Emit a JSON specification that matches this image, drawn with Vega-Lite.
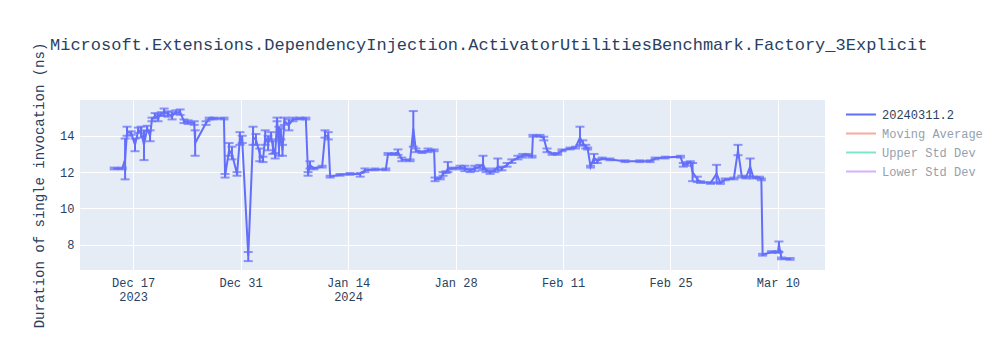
{
 "$schema": "https://vega.github.io/schema/vega-lite/v6.json",
 "width": 745,
 "height": 170,
 "autosize": {"type": "none"},
 "padding": {"left": 80, "top": 100, "right": 175, "bottom": 80},
 "background": "white",
 "title": {"text": "Microsoft.Extensions.DependencyInjection.ActivatorUtilitiesBenchmark.Factory_3Explicit", "anchor": "start", "frame": "group", "orient": "top", "offset": 0, "dy": 25, "baseline": "alphabetic", "dx": -30, "font": "Liberation Mono", "fontSize": 17, "fontWeight": "normal", "color": "#2a3f5f"},
 "data": {"values": [
  {"d":"2023-12-14T13:00","v":12.2,"lo":12.15,"hi":12.25},
  {"d":"2023-12-15T14:00","v":12.2,"lo":12.15,"hi":12.25},
  {"d":"2023-12-15T23:00","v":12.7,"lo":11.6,"hi":13.85},
  {"d":"2023-12-16T05:00","v":14.2,"lo":14.0,"hi":14.5},
  {"d":"2023-12-16T18:00","v":14.15,"lo":14.05,"hi":14.25},
  {"d":"2023-12-17T06:00","v":13.5,"lo":13.15,"hi":13.85},
  {"d":"2023-12-17T16:00","v":14.3,"lo":14.15,"hi":14.45},
  {"d":"2023-12-18T01:00","v":14.2,"lo":13.9,"hi":14.5},
  {"d":"2023-12-18T10:00","v":13.5,"lo":12.66,"hi":14.3},
  {"d":"2023-12-18T20:00","v":14.4,"lo":14.25,"hi":14.55},
  {"d":"2023-12-19T05:00","v":14.0,"lo":13.7,"hi":14.3},
  {"d":"2023-12-19T11:00","v":14.9,"lo":14.8,"hi":15.0},
  {"d":"2023-12-19T21:00","v":15.1,"lo":14.95,"hi":15.25},
  {"d":"2023-12-20T06:00","v":15.0,"lo":14.8,"hi":15.2},
  {"d":"2023-12-20T16:00","v":15.2,"lo":15.1,"hi":15.3},
  {"d":"2023-12-21T01:00","v":15.3,"lo":15.1,"hi":15.5},
  {"d":"2023-12-21T13:00","v":15.2,"lo":15.05,"hi":15.35},
  {"d":"2023-12-22T02:00","v":15.1,"lo":14.9,"hi":15.3},
  {"d":"2023-12-22T14:00","v":15.3,"lo":15.2,"hi":15.4},
  {"d":"2023-12-23T03:00","v":15.3,"lo":15.15,"hi":15.45},
  {"d":"2023-12-23T15:00","v":14.8,"lo":14.7,"hi":14.9},
  {"d":"2023-12-24T04:00","v":14.75,"lo":14.65,"hi":14.85},
  {"d":"2023-12-24T23:00","v":14.7,"lo":14.6,"hi":14.8},
  {"d":"2023-12-25T02:00","v":13.6,"lo":12.9,"hi":14.3},
  {"d":"2023-12-26T12:00","v":14.7,"lo":14.6,"hi":14.8},
  {"d":"2023-12-26T22:00","v":14.95,"lo":14.9,"hi":15.0},
  {"d":"2023-12-27T13:00","v":14.95,"lo":14.9,"hi":15.0},
  {"d":"2023-12-28T20:00","v":14.95,"lo":14.9,"hi":15.0},
  {"d":"2023-12-28T23:30","v":11.8,"lo":11.7,"hi":11.9},
  {"d":"2023-12-29T12:00","v":13.2,"lo":12.9,"hi":13.6},
  {"d":"2023-12-29T21:00","v":13.0,"lo":12.7,"hi":13.4},
  {"d":"2023-12-30T13:00","v":11.9,"lo":11.8,"hi":12.0},
  {"d":"2023-12-30T22:00","v":13.9,"lo":13.5,"hi":14.2},
  {"d":"2023-12-31T05:00","v":13.8,"lo":13.6,"hi":14.0},
  {"d":"2024-01-01T00:00","v":7.4,"lo":7.1,"hi":7.6},
  {"d":"2024-01-01T15:00","v":13.9,"lo":13.5,"hi":14.5},
  {"d":"2024-01-02T00:00","v":13.8,"lo":13.5,"hi":14.1},
  {"d":"2024-01-02T12:00","v":13.0,"lo":12.6,"hi":13.3},
  {"d":"2024-01-02T22:00","v":12.7,"lo":12.55,"hi":12.85},
  {"d":"2024-01-03T05:00","v":13.9,"lo":13.5,"hi":14.3},
  {"d":"2024-01-03T14:00","v":13.6,"lo":13.2,"hi":14.0},
  {"d":"2024-01-03T23:00","v":14.0,"lo":13.8,"hi":14.2},
  {"d":"2024-01-04T05:00","v":13.4,"lo":13.0,"hi":13.7},
  {"d":"2024-01-04T12:00","v":12.9,"lo":12.75,"hi":13.05},
  {"d":"2024-01-04T18:00","v":14.9,"lo":14.8,"hi":15.0},
  {"d":"2024-01-05T00:00","v":13.3,"lo":12.9,"hi":14.5},
  {"d":"2024-01-05T06:00","v":14.1,"lo":13.8,"hi":14.4},
  {"d":"2024-01-05T11:00","v":13.2,"lo":12.9,"hi":13.5},
  {"d":"2024-01-05T17:00","v":14.8,"lo":14.6,"hi":15.0},
  {"d":"2024-01-06T07:00","v":14.6,"lo":14.3,"hi":14.9},
  {"d":"2024-01-06T20:00","v":14.9,"lo":14.8,"hi":15.0},
  {"d":"2024-01-07T17:00","v":14.95,"lo":14.9,"hi":15.0},
  {"d":"2024-01-08T12:00","v":14.95,"lo":14.9,"hi":15.0},
  {"d":"2024-01-08T19:00","v":11.9,"lo":11.8,"hi":12.0},
  {"d":"2024-01-09T01:00","v":12.4,"lo":12.2,"hi":12.6},
  {"d":"2024-01-09T13:00","v":12.2,"lo":12.15,"hi":12.25},
  {"d":"2024-01-10T15:00","v":12.3,"lo":12.25,"hi":12.35},
  {"d":"2024-01-11T00:00","v":14.0,"lo":13.9,"hi":14.3},
  {"d":"2024-01-11T10:00","v":14.0,"lo":13.8,"hi":14.2},
  {"d":"2024-01-11T16:00","v":11.75,"lo":11.7,"hi":11.8},
  {"d":"2024-01-12T23:00","v":11.85,"lo":11.8,"hi":11.9},
  {"d":"2024-01-14T06:00","v":11.9,"lo":11.85,"hi":11.95},
  {"d":"2024-01-15T14:00","v":11.9,"lo":11.75,"hi":11.95},
  {"d":"2024-01-16T05:00","v":12.1,"lo":12.0,"hi":12.2},
  {"d":"2024-01-17T12:00","v":12.15,"lo":12.1,"hi":12.2},
  {"d":"2024-01-18T22:00","v":12.15,"lo":12.1,"hi":12.2},
  {"d":"2024-01-19T05:00","v":13.0,"lo":12.95,"hi":13.05},
  {"d":"2024-01-20T02:00","v":13.0,"lo":12.95,"hi":13.05},
  {"d":"2024-01-20T12:00","v":13.1,"lo":12.95,"hi":13.25},
  {"d":"2024-01-21T00:00","v":12.7,"lo":12.6,"hi":12.8},
  {"d":"2024-01-22T02:00","v":12.65,"lo":12.6,"hi":12.7},
  {"d":"2024-01-22T12:00","v":14.4,"lo":13.4,"hi":15.36},
  {"d":"2024-01-22T20:00","v":13.2,"lo":13.1,"hi":13.3},
  {"d":"2024-01-23T15:00","v":13.1,"lo":13.05,"hi":13.15},
  {"d":"2024-01-24T10:00","v":13.2,"lo":13.1,"hi":13.3},
  {"d":"2024-01-25T05:00","v":13.2,"lo":13.15,"hi":13.25},
  {"d":"2024-01-25T08:00","v":11.6,"lo":11.5,"hi":11.7},
  {"d":"2024-01-26T00:00","v":11.65,"lo":11.6,"hi":11.7},
  {"d":"2024-01-26T09:00","v":11.9,"lo":11.8,"hi":12.0},
  {"d":"2024-01-26T18:00","v":12.0,"lo":11.95,"hi":12.05},
  {"d":"2024-01-27T00:00","v":12.2,"lo":12.0,"hi":12.56},
  {"d":"2024-01-27T13:00","v":12.2,"lo":12.15,"hi":12.25},
  {"d":"2024-01-28T14:00","v":12.25,"lo":12.15,"hi":12.35},
  {"d":"2024-01-29T05:00","v":12.2,"lo":12.05,"hi":12.35},
  {"d":"2024-01-29T22:00","v":12.1,"lo":12.0,"hi":12.2},
  {"d":"2024-01-30T12:00","v":12.2,"lo":12.05,"hi":12.35},
  {"d":"2024-01-31T04:00","v":12.3,"lo":12.2,"hi":12.4},
  {"d":"2024-01-31T14:00","v":12.4,"lo":12.1,"hi":12.9},
  {"d":"2024-01-31T23:00","v":12.1,"lo":12.0,"hi":12.2},
  {"d":"2024-02-01T12:00","v":12.0,"lo":11.9,"hi":12.1},
  {"d":"2024-02-02T03:00","v":12.1,"lo":12.0,"hi":12.2},
  {"d":"2024-02-02T12:00","v":12.3,"lo":12.1,"hi":12.75},
  {"d":"2024-02-03T01:00","v":12.2,"lo":12.1,"hi":12.3},
  {"d":"2024-02-03T17:00","v":12.4,"lo":12.3,"hi":12.5},
  {"d":"2024-02-04T08:00","v":12.6,"lo":12.5,"hi":12.7},
  {"d":"2024-02-05T03:00","v":12.8,"lo":12.7,"hi":12.9},
  {"d":"2024-02-05T18:00","v":12.9,"lo":12.8,"hi":13.0},
  {"d":"2024-02-06T10:00","v":12.95,"lo":12.9,"hi":13.0},
  {"d":"2024-02-06T23:00","v":12.85,"lo":12.8,"hi":12.9},
  {"d":"2024-02-07T02:00","v":14.0,"lo":13.95,"hi":14.05},
  {"d":"2024-02-08T00:00","v":14.0,"lo":13.95,"hi":14.05},
  {"d":"2024-02-08T12:00","v":13.85,"lo":13.75,"hi":13.95},
  {"d":"2024-02-08T22:00","v":13.2,"lo":13.1,"hi":13.3},
  {"d":"2024-02-09T14:00","v":13.0,"lo":12.95,"hi":13.05},
  {"d":"2024-02-10T07:00","v":13.0,"lo":12.95,"hi":13.05},
  {"d":"2024-02-10T21:00","v":13.2,"lo":13.15,"hi":13.25},
  {"d":"2024-02-11T22:00","v":13.3,"lo":13.25,"hi":13.35},
  {"d":"2024-02-12T15:00","v":13.35,"lo":13.3,"hi":13.4},
  {"d":"2024-02-13T05:00","v":13.9,"lo":13.5,"hi":14.5},
  {"d":"2024-02-13T14:00","v":13.6,"lo":13.45,"hi":13.75},
  {"d":"2024-02-13T23:00","v":13.4,"lo":13.3,"hi":13.5},
  {"d":"2024-02-14T05:00","v":13.3,"lo":13.25,"hi":13.35},
  {"d":"2024-02-14T14:00","v":12.3,"lo":12.25,"hi":12.35},
  {"d":"2024-02-15T01:00","v":12.8,"lo":12.5,"hi":13.0},
  {"d":"2024-02-15T11:00","v":12.6,"lo":12.5,"hi":12.7},
  {"d":"2024-02-16T02:00","v":12.75,"lo":12.7,"hi":12.8},
  {"d":"2024-02-17T03:00","v":12.7,"lo":12.65,"hi":12.75},
  {"d":"2024-02-19T02:00","v":12.6,"lo":12.55,"hi":12.65},
  {"d":"2024-02-21T00:00","v":12.6,"lo":12.55,"hi":12.65},
  {"d":"2024-02-22T08:00","v":12.6,"lo":12.55,"hi":12.65},
  {"d":"2024-02-23T00:00","v":12.75,"lo":12.7,"hi":12.8},
  {"d":"2024-02-24T07:00","v":12.8,"lo":12.75,"hi":12.85},
  {"d":"2024-02-26T07:00","v":12.85,"lo":12.8,"hi":12.9},
  {"d":"2024-02-26T16:00","v":12.4,"lo":12.3,"hi":12.5},
  {"d":"2024-02-27T05:00","v":12.45,"lo":12.35,"hi":12.55},
  {"d":"2024-02-27T14:00","v":12.55,"lo":12.5,"hi":12.6},
  {"d":"2024-02-27T21:00","v":12.0,"lo":11.5,"hi":12.5},
  {"d":"2024-02-28T12:00","v":11.6,"lo":11.45,"hi":11.75},
  {"d":"2024-02-28T22:00","v":11.45,"lo":11.4,"hi":11.5},
  {"d":"2024-03-01T05:00","v":11.4,"lo":11.35,"hi":11.45},
  {"d":"2024-03-02T00:00","v":11.9,"lo":11.4,"hi":12.4},
  {"d":"2024-03-02T12:00","v":11.4,"lo":11.35,"hi":11.45},
  {"d":"2024-03-03T03:00","v":11.6,"lo":11.55,"hi":11.65},
  {"d":"2024-03-04T06:00","v":11.65,"lo":11.6,"hi":11.7},
  {"d":"2024-03-04T19:00","v":13.2,"lo":12.93,"hi":13.5},
  {"d":"2024-03-05T07:00","v":11.75,"lo":11.7,"hi":11.8},
  {"d":"2024-03-05T20:00","v":11.7,"lo":11.65,"hi":11.75},
  {"d":"2024-03-06T09:00","v":12.3,"lo":11.75,"hi":12.75},
  {"d":"2024-03-06T19:00","v":11.7,"lo":11.65,"hi":11.75},
  {"d":"2024-03-07T14:00","v":11.7,"lo":11.65,"hi":11.75},
  {"d":"2024-03-07T20:00","v":11.6,"lo":11.55,"hi":11.65},
  {"d":"2024-03-08T00:00","v":7.45,"lo":7.4,"hi":7.5},
  {"d":"2024-03-09T04:00","v":7.6,"lo":7.55,"hi":7.65},
  {"d":"2024-03-10T00:00","v":7.6,"lo":7.55,"hi":7.65},
  {"d":"2024-03-10T03:00","v":8.0,"lo":7.6,"hi":8.18},
  {"d":"2024-03-10T11:00","v":7.25,"lo":7.2,"hi":7.3},
  {"d":"2024-03-11T14:00","v":7.22,"lo":7.17,"hi":7.27}
 ]},
 "encoding": {
  "x": {"field": "d", "type": "temporal",
   "scale": {"domain": [{"year": 2023, "month": 12, "date": 10, "hours": 2}, {"year": 2024, "month": 3, "date": 16, "hours": 3}]},
   "axis": {"title": null, "grid": true, "labelPadding": 7, "labelLineHeight": 14, "labelFlush": false,
    "values": [{"year": 2023, "month": 12, "date": 17}, {"year": 2023, "month": 12, "date": 31}, {"year": 2024, "month": 1, "date": 14}, {"year": 2024, "month": 1, "date": 28}, {"year": 2024, "month": 2, "date": 11}, {"year": 2024, "month": 2, "date": 25}, {"year": 2024, "month": 3, "date": 10}],
    "labelExpr": "(month(datum.value)==11 && date(datum.value)==17) ? ['Dec 17','2023'] : ((month(datum.value)==0 && date(datum.value)==14) ? ['Jan 14','2024'] : timeFormat(datum.value, '%b %d'))"}}
 },
 "layer": [
  {"mark": {"type": "rule", "color": "#636efa", "strokeWidth": 2},
   "encoding": {
    "y": {"field": "lo", "type": "quantitative", "title": "Duration of single invocation (ns)", "scale": {"domain": [6.61, 15.97]},
     "axis": {"values": [8, 10, 12, 14], "grid": true, "labelPadding": 6, "titleX": -41, "titleY": 85, "titleBaseline": "middle"}},
    "y2": {"field": "hi"}}},
  {"mark": {"type": "tick", "orient": "horizontal", "size": 9, "thickness": 2, "color": "#636efa"},
   "encoding": {"y": {"field": "lo", "type": "quantitative", "title": "Duration of single invocation (ns)", "scale": {"domain": [6.61, 15.97]}}}},
  {"mark": {"type": "tick", "orient": "horizontal", "size": 9, "thickness": 2, "color": "#636efa"},
   "encoding": {"y": {"field": "hi", "type": "quantitative", "title": "Duration of single invocation (ns)", "scale": {"domain": [6.61, 15.97]}}}},
  {"mark": {"type": "line", "strokeWidth": 2},
   "encoding": {
    "y": {"field": "v", "type": "quantitative", "title": "Duration of single invocation (ns)", "scale": {"domain": [6.61, 15.97]}},
    "color": {"datum": "20240311.2",
     "scale": {"domain": ["20240311.2", "Moving Average", "Upper Std Dev", "Lower Std Dev"], "range": ["#636efa", "#f7aa9d", "#80e5ca", "#d5b1fc"]},
     "legend": {"orient": "none", "legendX": 765, "legendY": 5, "title": null, "symbolType": "stroke", "symbolSize": 900, "symbolStrokeWidth": 2, "labelFont": "Liberation Mono", "labelFontSize": 12, "labelColor": "#2a3f5f", "clipHeight": 19, "rowPadding": 0, "labelOffset": 5, "padding": 0,
      "encode": {"labels": {"update": {"fill": {"signal": "datum.value === '20240311.2' ? '#2a3f5f' : '#959fae'"}}}}}}}}
 ],
 "config": {
  "view": {"fill": "#e5ecf6", "stroke": null},
  "font": "Liberation Mono",
  "axis": {"domain": false, "ticks": false, "gridColor": "white", "gridWidth": 1, "labelFont": "Liberation Mono", "labelFontSize": 12, "labelColor": "#2a3f5f", "titleFont": "Liberation Mono", "titleFontSize": 14, "titleFontWeight": "normal", "titleColor": "#2a3f5f"}
 }
}
